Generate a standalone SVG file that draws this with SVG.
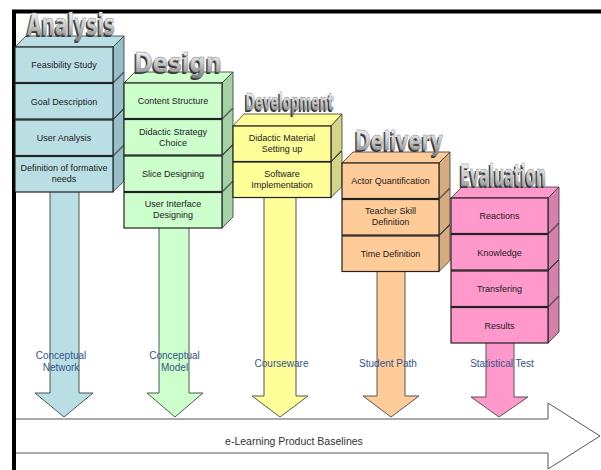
<svg xmlns="http://www.w3.org/2000/svg" width="601" height="470" viewBox="0 0 601 470">
<defs>
<linearGradient id="tg" x1="0" y1="0" x2="0" y2="1">
<stop offset="0" stop-color="#ffffff"/>
<stop offset="0.5" stop-color="#d0d0d0"/>
<stop offset="1" stop-color="#7a7a7a"/>
</linearGradient>
</defs>
<style>
.bt{font-family:"Liberation Sans",Arial,sans-serif;font-size:9px;fill:#1a1a1a;text-anchor:middle}
.lb{font-family:"Liberation Sans",Arial,sans-serif;font-size:10px;fill:#35548a;text-anchor:middle}
.bl{font-family:"Liberation Sans",Arial,sans-serif;font-size:10.5px;fill:#333;text-anchor:middle}
.ts{font-family:"DejaVu Sans Condensed","DejaVu Sans",sans-serif;font-weight:bold;fill:#3a3a3a}
.tt{font-family:"DejaVu Sans Condensed","DejaVu Sans",sans-serif;font-weight:bold;fill:url(#tg);stroke:#888;stroke-width:0.5}
.f{stroke:#222;stroke-width:1.2}
.s{stroke:#333;stroke-width:0.8}
.ar{stroke:#555;stroke-width:1}
.a1{fill:#b9dfe5}.a2{fill:#97bfc7}
.d1{fill:#ccffcc}.d2{fill:#a5d2a5}
.v1{fill:#ffff99}.v2{fill:#d5d58a}
.l1{fill:#ffcc99}.l2{fill:#d7ab80}
.e1{fill:#ff99cc}.e2{fill:#d680ad}
</style>
<rect width="601" height="470" fill="#ffffff"/>
<g id="connectors">
<polygon class="ar a1" points="50,190 50,393 35,393 64,417 93,393 79,393 79,190"/>
<polygon class="ar d1" points="159,226 159,393 147,393 175,417 203,393 189,393 189,226"/>
<polygon class="ar v1" points="264,196 264,396 252,396 280,417 308,396 296,396 296,196"/>
<polygon class="ar l1" points="377,270 377,396 363,396 391,417 419,396 405,396 405,270"/>
<polygon class="ar e1" points="486,342 486,397 471,397 499,417 528,397 514,397 514,342"/>
<polygon points="14,419 548,419 548,403 600,436 548,469 548,453 14,453" fill="#ffffff" stroke="#555" stroke-width="1"/>
<text class="bl" x="294" y="445">e-Learning Product Baselines</text>
</g>
<g id="labels">
<text class="lb" x="61" y="358.5">Conceptual</text>
<text class="lb" x="61" y="370.5">Network</text>
<text class="lb" x="174.5" y="358.5">Conceptual</text>
<text class="lb" x="174.5" y="370.5">Model</text>
<text class="lb" x="281.5" y="366.5">Courseware</text>
<text class="lb" x="388" y="366.5">Student Path</text>
<text class="lb" x="502" y="366.5">Statistical Test</text>
</g>
<path d="M601,11.5 H14 V470" fill="none" stroke="#000" stroke-width="4"/>
<g id="analysis">
<g id="a4"><polygon class="s a1" points="15,156.5 26,145.5 124,145.5 113,156.5"/><polygon class="s a2" points="113,156.5 124,145.5 124,181 113,192"/><rect class="f a1" x="15" y="156.5" width="98" height="35.5"/><text class="bt" x="64" y="170.5">Definition of formative</text><text class="bt" x="64" y="181.5">needs</text></g>
<g id="a3"><polygon class="s a1" points="15,120 26,109 124,109 113,120"/><polygon class="s a2" points="113,120 124,109 124,144.5 113,155.5"/><rect class="f a1" x="15" y="120" width="98" height="35.5"/><text class="bt" x="64" y="141">User Analysis</text></g>
<g id="a2"><polygon class="s a1" points="15,83.5 26,72.5 124,72.5 113,83.5"/><polygon class="s a2" points="113,83.5 124,72.5 124,108 113,119"/><rect class="f a1" x="15" y="83.5" width="98" height="35.5"/><text class="bt" x="64" y="104.5">Goal Description</text></g>
<g id="a1"><polygon class="s a1" points="15,47 26,36 124,36 113,47"/><polygon class="s a2" points="113,47 124,36 124,71.5 113,82.5"/><rect class="f a1" x="15" y="47" width="98" height="35.5"/><text class="bt" x="64" y="68">Feasibility Study</text></g>
<text class="ts" transform="translate(25.5,36.5) scale(0.6,1)" font-size="30" textLength="146.7" lengthAdjust="spacingAndGlyphs">Analysis</text>
<text class="tt" transform="translate(27,35) scale(0.6,1)" font-size="30" textLength="146.7" lengthAdjust="spacingAndGlyphs">Analysis</text>
</g>
<g id="design">
<g id="d4"><polygon class="s d1" points="124,192.5 135,181.5 233,181.5 222,192.5"/><polygon class="s d2" points="222,192.5 233,181.5 233,217 222,228"/><rect class="f d1" x="124" y="192.5" width="98" height="35.5"/><text class="bt" x="173" y="207">User Interface</text><text class="bt" x="173" y="218">Designing</text></g>
<g id="d3"><polygon class="s d1" points="124,156 135,145 233,145 222,156"/><polygon class="s d2" points="222,156 233,145 233,180.5 222,191.5"/><rect class="f d1" x="124" y="156" width="98" height="35.5"/><text class="bt" x="173" y="177">Slice Designing</text></g>
<g id="d2"><polygon class="s d1" points="124,119.5 135,108.5 233,108.5 222,119.5"/><polygon class="s d2" points="222,119.5 233,108.5 233,144 222,155"/><rect class="f d1" x="124" y="119.5" width="98" height="35.5"/><text class="bt" x="173" y="135">Didactic Strategy</text><text class="bt" x="173" y="146">Choice</text></g>
<g id="d1"><polygon class="s d1" points="124,83 135,72 233,72 222,83"/><polygon class="s d2" points="222,83 233,72 233,107.5 222,118.5"/><rect class="f d1" x="124" y="83" width="98" height="35.5"/><text class="bt" x="173" y="104">Content Structure</text></g>
<text class="ts" transform="translate(132.5,73.5) scale(0.6,1)" font-size="27" textLength="146.7" lengthAdjust="spacingAndGlyphs">Design</text>
<text class="tt" transform="translate(134,72) scale(0.6,1)" font-size="27" textLength="146.7" lengthAdjust="spacingAndGlyphs">Design</text>
</g>
<g id="development">
<g id="v2"><polygon class="s v1" points="233,162 244,151 342,151 331,162"/><polygon class="s v2" points="331,162 342,151 342,186.5 331,197.5"/><rect class="f v1" x="233" y="162" width="98" height="35.5"/><text class="bt" x="282" y="176.5">Software</text><text class="bt" x="282" y="187.5">Implementation</text></g>
<g id="v1"><polygon class="s v1" points="233,126 244,114 342,114 331,126"/><polygon class="s v2" points="331,126 342,114 342,149.5 331,161.5"/><rect class="f v1" x="233" y="126" width="98" height="35.5"/><text class="bt" x="282" y="140.5">Didactic Material</text><text class="bt" x="282" y="151.5">Setting up</text></g>
<text class="ts" transform="translate(244,111.5) scale(0.5,1)" font-size="23" textLength="176" lengthAdjust="spacingAndGlyphs">Development</text>
<text class="tt" transform="translate(245.5,110) scale(0.5,1)" font-size="23" textLength="176" lengthAdjust="spacingAndGlyphs">Development</text>
</g>
<g id="delivery">
<g id="l3"><polygon class="s l1" points="342,236 353,225 450,225 439,236"/><polygon class="s l2" points="439,236 450,225 450,260.5 439,271.5"/><rect class="f l1" x="342" y="236" width="97" height="35.5"/><text class="bt" x="390.5" y="256.5">Time Definition</text></g>
<g id="l2"><polygon class="s l1" points="342,199.5 353,188.5 450,188.5 439,199.5"/><polygon class="s l2" points="439,199.5 450,188.5 450,224 439,235"/><rect class="f l1" x="342" y="199.5" width="97" height="35.5"/><text class="bt" x="390.5" y="214">Teacher Skill</text><text class="bt" x="390.5" y="225">Definition</text></g>
<g id="l1"><polygon class="s l1" points="342,163 353,152 450,152 439,163"/><polygon class="s l2" points="439,163 450,152 450,187.5 439,198.5"/><rect class="f l1" x="342" y="163" width="97" height="35.5"/><text class="bt" x="390.5" y="183.5">Actor Quantification</text></g>
<text class="ts" transform="translate(353.5,151.5) scale(0.6,1)" font-size="27" textLength="146.7" lengthAdjust="spacingAndGlyphs">Delivery</text>
<text class="tt" transform="translate(355,150) scale(0.6,1)" font-size="27" textLength="146.7" lengthAdjust="spacingAndGlyphs">Delivery</text>
</g>
<g id="evaluation">
<g id="e4"><polygon class="s e1" points="451,307.5 462,296.5 559,296.5 548,307.5"/><polygon class="s e2" points="548,307.5 559,296.5 559,332 548,343"/><rect class="f e1" x="451" y="307.5" width="97" height="35.5"/><text class="bt" x="499.5" y="328.5">Results</text></g>
<g id="e3"><polygon class="s e1" points="451,271 462,260 559,260 548,271"/><polygon class="s e2" points="548,271 559,260 559,295.5 548,306.5"/><rect class="f e1" x="451" y="271" width="97" height="35.5"/><text class="bt" x="499.5" y="292">Transfering</text></g>
<g id="e2"><polygon class="s e1" points="451,234.5 462,223.5 559,223.5 548,234.5"/><polygon class="s e2" points="548,234.5 559,223.5 559,259 548,270"/><rect class="f e1" x="451" y="234.5" width="97" height="35.5"/><text class="bt" x="499.5" y="255.5">Knowledge</text></g>
<g id="e1"><polygon class="s e1" points="451,198 462,187 559,187 548,198"/><polygon class="s e2" points="548,198 559,187 559,222.5 548,233.5"/><rect class="f e1" x="451" y="198" width="97" height="35.5"/><text class="bt" x="499.5" y="219">Reactions</text></g>
<text class="ts" transform="translate(458.5,187.5) scale(0.5,1)" font-size="31" textLength="172" lengthAdjust="spacingAndGlyphs">Evaluation</text>
<text class="tt" transform="translate(460,186) scale(0.5,1)" font-size="31" textLength="172" lengthAdjust="spacingAndGlyphs">Evaluation</text>
</g>
</svg>
